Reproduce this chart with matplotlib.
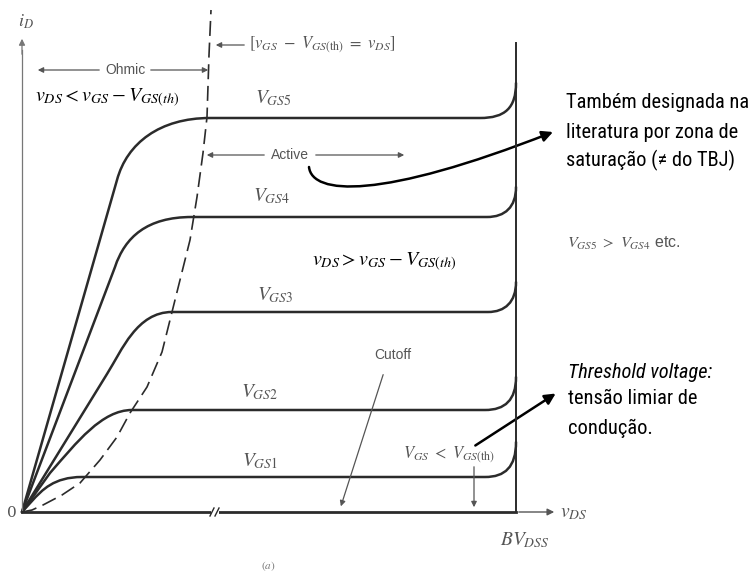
import matplotlib
matplotlib.use("Agg")
import matplotlib.pyplot as plt
from matplotlib.path import Path
from matplotlib.patches import PathPatch, FancyArrowPatch
from matplotlib import font_manager

plt.rcParams['mathtext.fontset'] = 'stix'

# ---------------- data (diagram units: v_DS to the right, i_D upward) ----------
curve_names = ['V_{GS1}', 'V_{GS2}', 'V_{GS3}', 'V_{GS4}', 'V_{GS5}']
sat_levels = [35, 102, 200, 295, 394]          # i_D in active region
BV_DSS = 494                                    # breakdown voltage position
bend_start = [463, 463, 466, 465, 458]          # v_DS where breakdown bend begins
bend_height = [35, 33, 30, 30, 35]              # rise of i_D at BV_DSS
# ohmic-region shape: end of linear part, two control points, start of flat part
ohm_A = [(10, 11), (28, 39), (85, 138), (93, 245), (95, 332)]
ohm_C1 = [(20, 22), (55, 70), (100, 162), (103, 275), (105, 369)]
ohm_C2 = [(32, 35), (80, 102), (115, 200), (125, 295), (138, 394)]
ohm_K = [(60, 35), (110, 102), (150, 200), (170, 295), (188, 394)]
# boundary vDS = vGS - VGS(th)
bound_x = [0, 10, 21, 40, 58, 78, 95, 108, 125, 140, 148, 158, 168, 175, 181, 185, 187, 189]
bound_y = [0, 2, 7, 17, 29, 52, 75, 99, 125, 160, 192, 232, 272, 315, 359, 395, 457, 502]

CURVE = '#2b2b2b'
GREY = '#555555'
LGREY = '#777777'

# narrow sans family if available
names = {f.name for f in font_manager.fontManager.ttflist}
RF = [n for n in ['Liberation Sans Narrow', 'Roboto Condensed', 'DejaVu Sans Condensed', 'Arial Narrow']
      if n in names] + ['Liberation Sans']
narrow = RF[0] != 'Liberation Sans'
RFS = 14.7 if narrow else 13.5

fig = plt.figure(figsize=(7.51, 5.76), dpi=100)
ax = fig.add_axes([0, 0, 1, 1])
ax.set_xlim(-22, 729)
ax.set_ylim(-64, 512)
ax.axis('off')

# axes
ax.plot([0, 0], [0, 462], color=LGREY, lw=0.9)
ax.annotate('', xy=(0, 476), xytext=(0, 455),
            arrowprops=dict(arrowstyle='-|>', color=LGREY, lw=0.9, mutation_scale=9))
ax.plot([0, BV_DSS], [0, 0], color=CURVE, lw=2.0)
ax.annotate('', xy=(535, 0), xytext=(BV_DSS, 0),
            arrowprops=dict(arrowstyle='-|>', color=GREY, lw=1.0, mutation_scale=10))
# BV_DSS line
ax.plot([BV_DSS, BV_DSS], [0, 469], color=CURVE, lw=1.4)
# axis break
ax.plot([189, 197], [0, 0], color='white', lw=3, solid_capstyle='butt')
ax.plot([188, 192], [-4, 4], color=CURVE, lw=1.0)
ax.plot([193, 197], [-4, 4], color=CURVE, lw=1.0)

# characteristic curves
for i in range(5):
    L = sat_levels[i]
    verts = [(0, 0), ohm_A[i], ohm_C1[i], ohm_C2[i], ohm_K[i],
             (bend_start[i], L), (BV_DSS - 11, L), (BV_DSS, L + 10), (BV_DSS, L + bend_height[i])]
    codes = [Path.MOVETO, Path.LINETO, Path.CURVE4, Path.CURVE4, Path.CURVE4,
             Path.LINETO, Path.CURVE4, Path.CURVE4, Path.CURVE4]
    ax.add_patch(PathPatch(Path(verts, codes), fill=False, edgecolor=CURVE, lw=1.8,
                           capstyle='round', joinstyle='round'))

# boundary dashed curve
ax.plot(bound_x, bound_y, color=CURVE, lw=1.2, dashes=(9, 4))

# curve labels
label_pos = [(238, 51), (238, 120), (253, 217), (250, 316), (251, 414)]
for name, (x, y) in zip(curve_names, label_pos):
    ax.text(x, y, '$' + name + '$', fontsize=14, color=GREY, ha='center', va='center')

# axis labels
ax.text(4, 490, '$i_D$', fontsize=13, color=GREY, ha='center', va='center')
ax.text(-10, -1, '0', fontsize=11, color=GREY, ha='center', va='center', family='DejaVu Serif')
ax.text(538, -1, '$v_{DS}$', fontsize=14, color=GREY, ha='left', va='center')
ax.text(478, -28, '$BV_{DSS}$', fontsize=14, color=GREY, ha='left', va='center')
ax.text(246, -54, '$(a)$', fontsize=8, color=LGREY, ha='center', va='center')

# Ohmic region marker
ax.text(103, 442, 'Ohmic', fontsize=10, color=GREY, ha='center', va='center', family='Liberation Sans')
ax.annotate('', xy=(13, 442), xytext=(80, 442),
            arrowprops=dict(arrowstyle='-|>', color=GREY, lw=0.9, mutation_scale=8))
ax.annotate('', xy=(189, 442), xytext=(126, 442),
            arrowprops=dict(arrowstyle='-|>', color=GREY, lw=0.9, mutation_scale=8))
ax.text(13, 414, r'$v_{DS} < v_{GS} - V_{GS(th)}$', fontsize=14.5, color='black',
        ha='left', va='center')

# boundary equation
ax.text(227, 467, r'$[v_{GS}\ -\ V_{GS\mathrm{(th)}}\ =\ v_{DS}]$', fontsize=12, color=GREY,
        ha='left', va='center')
ax.annotate('', xy=(191, 467), xytext=(225, 467),
            arrowprops=dict(arrowstyle='-|>', color=GREY, lw=0.9, mutation_scale=8))

# Active region marker
ax.text(268, 357, 'Active', fontsize=10, color=GREY, ha='center', va='center', family='Liberation Sans')
ax.annotate('', xy=(182, 357), xytext=(245, 357),
            arrowprops=dict(arrowstyle='-|>', color=GREY, lw=0.9, mutation_scale=8))
ax.annotate('', xy=(385, 357), xytext=(291, 357),
            arrowprops=dict(arrowstyle='-|>', color=GREY, lw=0.9, mutation_scale=8))
ax.text(290, 250, r'$v_{DS} > v_{GS} - V_{GS(th)}$', fontsize=14.5, color='black',
        ha='left', va='center')

# Cutoff
ax.text(371, 157, 'Cutoff', fontsize=10, color=GREY, ha='center', va='center', family='Liberation Sans')
ax.annotate('', xy=(318, 3), xytext=(362, 140),
            arrowprops=dict(arrowstyle='-|>', color=GREY, lw=0.9, mutation_scale=8))
ax.text(381, 57, r'$V_{GS}\ <\ V_{GS\mathrm{(th)}}$', fontsize=12, color=GREY, ha='left', va='center')
ax.annotate('', xy=(452, 2), xytext=(452, 48),
            arrowprops=dict(arrowstyle='-|>', color=GREY, lw=0.9, mutation_scale=8))

# black annotation arrows
arr_path = Path([(287, 345), (290, 317), (358, 312), (531, 380)],
                [Path.MOVETO, Path.CURVE4, Path.CURVE4, Path.CURVE4])
ax.add_patch(FancyArrowPatch(path=arr_path, arrowstyle='-|>', color='black', lw=1.8,
                             mutation_scale=16))
ax.add_patch(FancyArrowPatch((451, 65), (536, 120), arrowstyle='-|>', color='black', lw=1.8,
                             mutation_scale=16))

# right-hand notes
ax.text(544, 409, 'Também designada na', fontsize=RFS, color='black', family=RF, ha='left', va='center')
ax.text(544, 380, 'literatura por zona de', fontsize=RFS, color='black', family=RF, ha='left', va='center')
ax.text(544, 352, 'saturação (≠ do TBJ)', fontsize=RFS, color='black', family=RF, ha='left', va='center')
ax.text(545, 269, r'$V_{GS5}\ >\ V_{GS4}$ etc.', fontsize=11.5, color=GREY, family='Liberation Sans',
        ha='left', va='center')
ax.text(546, 140, 'Threshold voltage:', fontsize=RFS, style='italic', color='black', family=RF,
        ha='left', va='center')
ax.text(546, 113, 'tensão limiar de', fontsize=RFS, color='black', family=RF, ha='left', va='center')
ax.text(546, 84, 'condução.', fontsize=RFS, color='black', family=RF, ha='left', va='center')

fig.savefig('out.png', dpi=100)
